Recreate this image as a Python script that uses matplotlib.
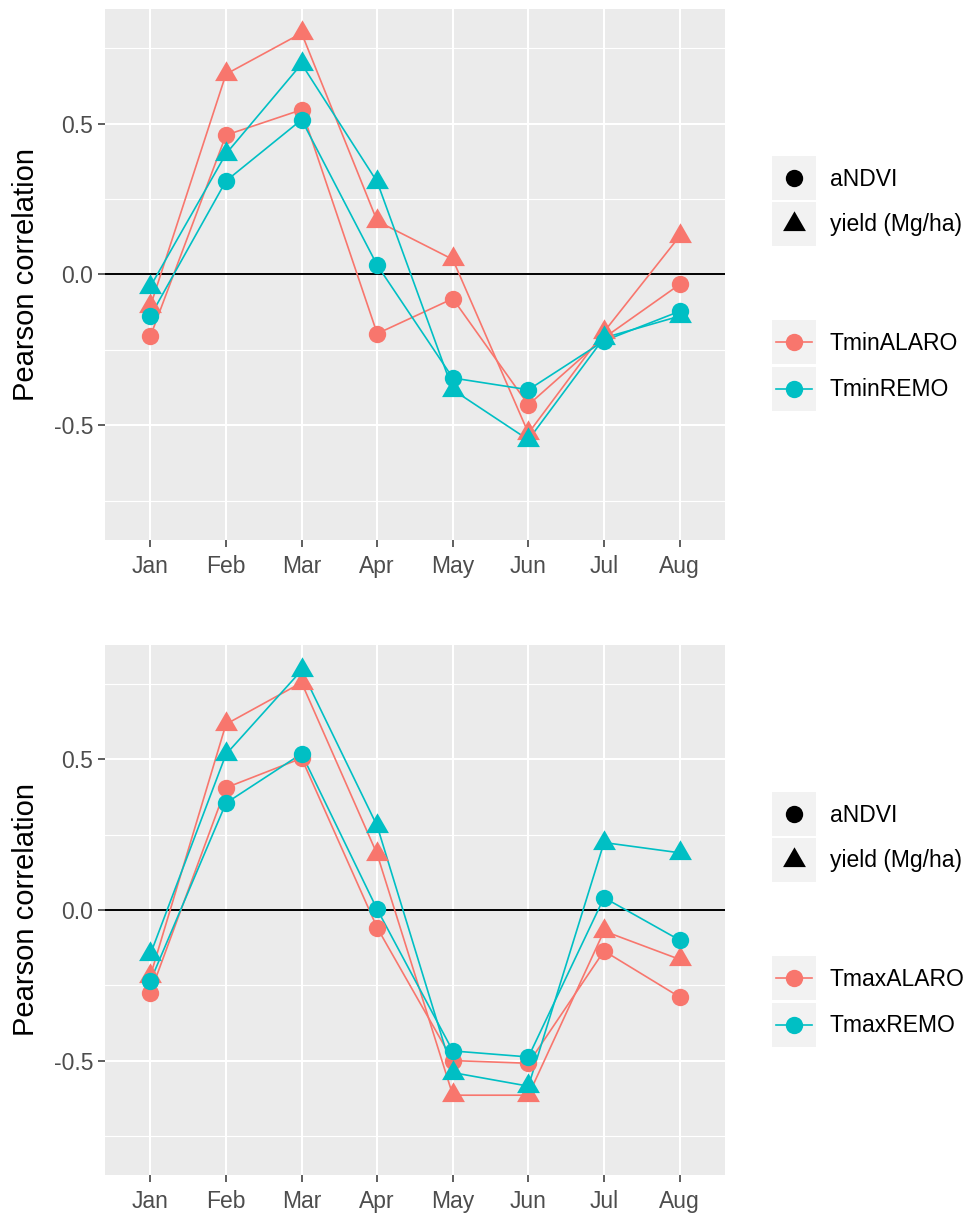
import matplotlib
matplotlib.use("Agg")
import matplotlib.pyplot as plt
from matplotlib.path import Path

plt.rcParams["font.family"] = ["Liberation Sans", "DejaVu Sans"]

# dados
meses = ["Jan", "Feb", "Mar", "Apr", "May", "Jun", "Jul", "Aug"]

# painel de cima (Tmin)
tmin_alaro_ndvi = [-0.205, 0.462, 0.546, -0.196, -0.080, -0.432, -0.210, -0.033]
tmin_alaro_yield = [-0.105, 0.664, 0.800, 0.177, 0.050, -0.526, -0.190, 0.127]
tmin_remo_ndvi = [-0.138, 0.310, 0.513, 0.031, -0.343, -0.382, -0.220, -0.122]
tmin_remo_yield = [-0.040, 0.400, 0.698, 0.307, -0.382, -0.548, -0.210, -0.138]

# painel de baixo (Tmax)
tmax_alaro_ndvi = [-0.275, 0.406, 0.504, -0.059, -0.500, -0.509, -0.136, -0.289]
tmax_alaro_yield = [-0.219, 0.617, 0.755, 0.185, -0.615, -0.615, -0.070, -0.164]
tmax_remo_ndvi = [-0.236, 0.355, 0.519, 0.002, -0.468, -0.488, 0.041, -0.100]
tmax_remo_yield = [-0.147, 0.517, 0.796, 0.279, -0.540, -0.585, 0.224, 0.190]

variaveis = ["aNDVI", "yield (Mg/ha)"]
modelos_cima = ["TminALARO", "TminREMO"]
modelos_baixo = ["TmaxALARO", "TmaxREMO"]

VERMELHO = "#F8766D"
CIANO = "#00BFC4"
TRI = Path([(0, 1), (-0.866, -0.5), (0.866, -0.5), (0, 1)],
           [Path.MOVETO, Path.LINETO, Path.LINETO, Path.CLOSEPOLY])
FORMAS = {"aNDVI": ("o", 12.5), "yield (Mg/ha)": (TRI, 19)}

W, H = 970, 1215
fig = plt.figure(figsize=(W / 100, H / 100), dpi=100)


def painel(top, bottom, series):
    ax = fig.add_axes([105 / W, (H - bottom) / H, 620 / W, (bottom - top) / H])
    ax.set_facecolor("#EBEBEB")
    for s in ax.spines.values():
        s.set_visible(False)
    x = list(range(len(meses)))
    ax.set_xlim(-0.6, len(meses) - 0.4)
    ax.set_ylim(-0.88, 0.88)
    ax.set_xticks(x)
    ax.set_xticklabels(meses)
    ax.set_yticks([-0.5, 0.0, 0.5])
    ax.set_yticklabels(["-0.5", "0.0", "0.5"])
    ax.set_yticks([-0.75, -0.25, 0.25, 0.75], minor=True)
    ax.grid(True, which="major", color="white", linewidth=1.5, zorder=0)
    ax.grid(True, which="minor", axis="y", color="white", linewidth=0.8, zorder=0)
    ax.tick_params(axis="both", which="major", length=5, width=1.1, color="#333333",
                   labelcolor="#4D4D4D", labelsize=16.5, pad=3.5)
    ax.tick_params(axis="x", which="major", pad=6)
    ax.tick_params(axis="y", which="minor", length=0)
    ax.set_axisbelow(True)
    ax.axhline(0, color="black", linewidth=1.4, zorder=2)
    # linhas primeiro, pontos por cima (como no ggplot)
    for vals, cor, var in series:
        ax.plot(x, vals, color=cor, linewidth=1.2, zorder=3)
    for vals, cor, var in series:
        m, ms = FORMAS[var]
        ax.plot(x, vals, linestyle="none", marker=m, markersize=ms,
                color=cor, markeredgewidth=0, zorder=4)
    ax.set_ylabel("Pearson correlation", fontsize=21)
    ax.yaxis.set_label_coords(-0.105, 0.5)
    return ax


def legenda(top, modelos):
    # caixas da legenda de formas
    def chave(y0):
        k = fig.add_axes([772 / W, (H - y0 - 44) / H, 44 / W, 44 / H])
        k.set_facecolor("#F2F2F2")
        k.set_xlim(0, 1)
        k.set_ylim(0, 1)
        k.set_xticks([])
        k.set_yticks([])
        for s in k.spines.values():
            s.set_visible(False)
        return k

    ys = [top, top + 46]
    for y0, var in zip(ys, variaveis):
        k = chave(y0)
        m, ms = FORMAS[var]
        k.plot([0.5], [0.5], marker=m, markersize=ms, color="black", markeredgewidth=0)
        fig.text(830 / W, 1 - (y0 + 23) / H, var, fontsize=16.5, va="center")
    ys = [top + 164, top + 211]
    for y0, mod, cor in zip(ys, modelos, [VERMELHO, CIANO]):
        k = chave(y0)
        k.plot([0.08, 0.92], [0.5, 0.5], color=cor, linewidth=1.2)
        k.plot([0.5], [0.5], marker="o", markersize=12.5, color=cor, markeredgewidth=0)
        fig.text(830 / W, 1 - (y0 + 23) / H, mod, fontsize=16.5, va="center")


painel(9, 540, [
    (tmin_alaro_ndvi, VERMELHO, "aNDVI"),
    (tmin_alaro_yield, VERMELHO, "yield (Mg/ha)"),
    (tmin_remo_ndvi, CIANO, "aNDVI"),
    (tmin_remo_yield, CIANO, "yield (Mg/ha)"),
])
legenda(156, modelos_cima)

painel(645, 1175, [
    (tmax_alaro_ndvi, VERMELHO, "aNDVI"),
    (tmax_alaro_yield, VERMELHO, "yield (Mg/ha)"),
    (tmax_remo_ndvi, CIANO, "aNDVI"),
    (tmax_remo_yield, CIANO, "yield (Mg/ha)"),
])
legenda(792, modelos_baixo)

fig.savefig("out.png", dpi=100, facecolor="white")
